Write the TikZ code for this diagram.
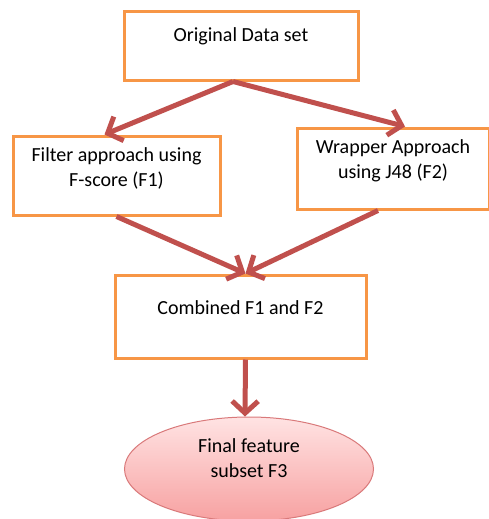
\documentclass[tikz,border=0pt]{standalone}
\usepackage{fontspec}
\setmainfont{Carlito}
\usetikzlibrary{arrows.meta,shapes.geometric}
\definecolor{boxorange}{HTML}{F79646}
\definecolor{arrowred}{HTML}{C0504D}
\definecolor{ovaltop}{HTML}{FFE3E3}
\definecolor{ovalbottom}{HTML}{F7A1A1}
\definecolor{ovalline}{HTML}{D9797A}
\begin{document}
\begin{tikzpicture}[x=1pt, y=-1pt, every node/.style={font=\fontsize{20}{25}\selectfont}]
    % Define styles
    \tikzstyle{stage} = [draw=boxorange, line width=3pt, rectangle, fill=white, align=center, inner sep=0pt]
    \tikzstyle{result} = [draw=ovalline, line width=1pt, ellipse, top color=ovaltop, bottom color=ovalbottom, align=center, inner sep=0pt, minimum width=249pt, minimum height=104pt, text height=37pt, text depth=21pt]
    \tikzstyle{flow} = [draw=arrowred, line width=5pt, -{Straight Barb[length=12pt, width=26pt]}]

    \useasboundingbox (0,0) rectangle (488,519);

    % Nodes
    \node[stage, minimum width=234pt, minimum height=68pt, text height=30pt, text depth=38pt] (original) at (241,46) {Original Data set};
    \node[stage, minimum width=207pt, minimum height=79pt, text height=50pt, text depth=29pt] (filter) at (116.5,175.5) {Filter approach using\\F-score (F1)};
    \node[stage, minimum width=192pt, minimum height=81pt, text height=50pt, text depth=31pt] (wrapper) at (393,168.5) {Wrapper Approach\\using J48 (F2)};
    \node[stage, minimum width=251pt, minimum height=83pt, text height=39pt, text depth=44pt] (combined) at (240.5,316.5) {Combined F1 and F2};
    \node[result] (final) at (249,469) {Final feature\\subset F3};

    % Flow arrows
    \draw[flow] ([xshift=-8pt]original.south) -- ([xshift=-12pt]filter.north);
    \draw[flow] ([xshift=-8pt]original.south) -- ([xshift=12pt]wrapper.north);
    \draw[flow] (filter.south) -- ([xshift=5pt]combined.north);
    \draw[flow] ([xshift=-15pt]wrapper.south) -- ([xshift=5pt]combined.north);
    \draw[flow] ([xshift=5pt]combined.south) -- ([xshift=-4pt]final.north);
\end{tikzpicture}
\end{document}
